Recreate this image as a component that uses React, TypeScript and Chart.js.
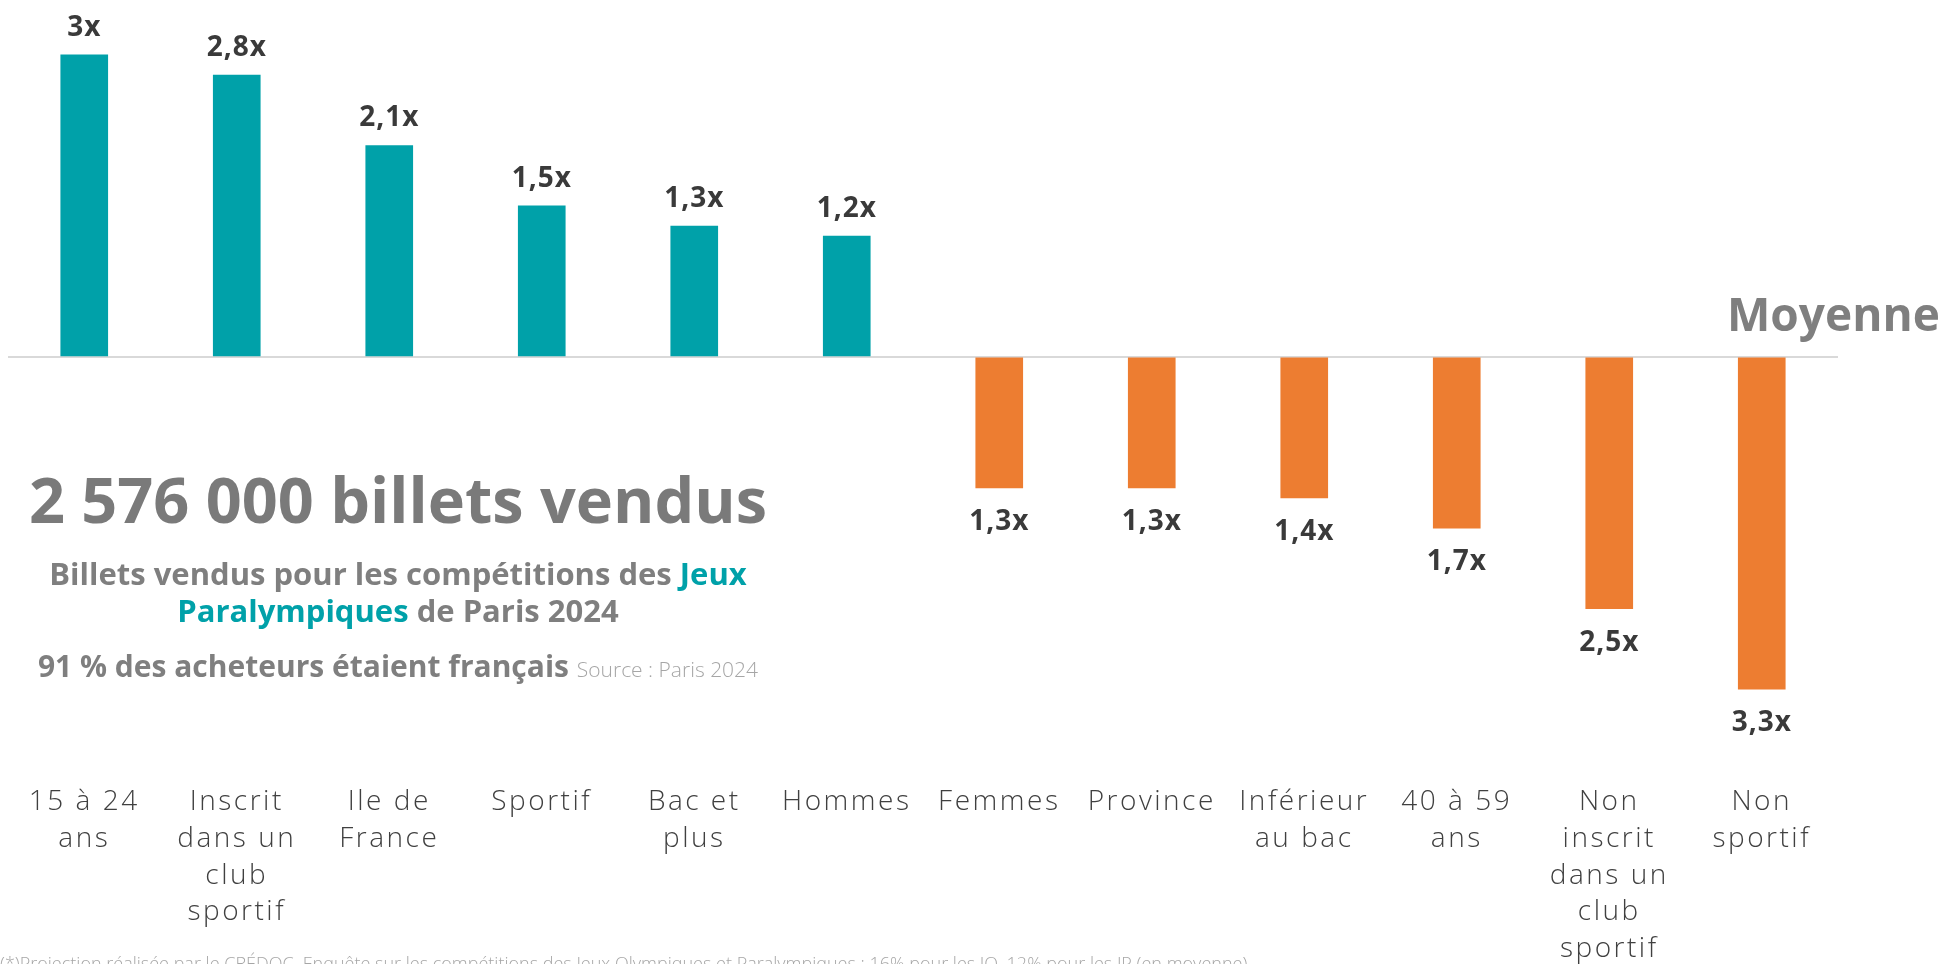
import React, { useEffect, useRef } from "react";
import { Chart, registerables } from "chart.js";

Chart.register(...registerables);

const categories: string[][] = [
  ["15 à 24", "ans"],
  ["Inscrit", "dans un", "club", "sportif"],
  ["Ile de", "France"],
  ["Sportif"],
  ["Bac et", "plus"],
  ["Hommes"],
  ["Femmes"],
  ["Province"],
  ["Inférieur", "au bac"],
  ["40 à 59", "ans"],
  ["Non", "inscrit", "dans un", "club", "sportif"],
  ["Non", "sportif"],
];

const values: number[] = [3, 2.8, 2.1, 1.5, 1.3, 1.2, -1.3, -1.3, -1.4, -1.7, -2.5, -3.3];

const valueLabels: string[] = ["3x", "2,8x", "2,1x", "1,5x", "1,3x", "1,2x", "1,3x", "1,3x", "1,4x", "1,7x", "2,5x", "3,3x"];

const TEAL = "#00A1A9";
const ORANGE = "#ED7D31";
const FONT = "'Open Sans', sans-serif";

export default function App() {
  const ref = useRef<HTMLCanvasElement>(null);

  useEffect(() => {
    const spacingPlugin = {
      id: "spacing",
      beforeDraw(chart: any) {
        (chart.ctx as any).letterSpacing = "2.5px";
      },
    };
    const labelPlugin = {
      id: "valueLabels",
      afterDatasetsDraw(chart: any) {
        const ctx = chart.ctx;
        const meta = chart.getDatasetMeta(0);
        ctx.save();
        (ctx as any).letterSpacing = "1px";
        ctx.font = `700 28px ${FONT}`;
        ctx.fillStyle = "#3a3a3a";
        ctx.textAlign = "center";
        ctx.textBaseline = "middle";
        meta.data.forEach((bar: any, i: number) => {
          const v = values[i];
          const y = v >= 0 ? bar.y - 27 : bar.y + 34;
          ctx.fillText(valueLabels[i], bar.x, y);
        });
        ctx.restore();
      },
    };

    const chart = new Chart(ref.current as HTMLCanvasElement, {
      type: "bar",
      data: {
        labels: categories,
        datasets: [
          {
            data: values,
            backgroundColor: values.map((v) => (v >= 0 ? TEAL : ORANGE)),
            barThickness: 47,
          },
        ],
      },
      options: {
        animation: false,
        responsive: false,
        maintainAspectRatio: false,
        layout: { padding: { left: 8, right: 101, top: 4.5, bottom: 10.1 } },
        plugins: { legend: { display: false }, tooltip: { enabled: false } },
        scales: {
          x: {
            grid: { display: false, drawTicks: false },
            border: { display: false },
            afterFit: (scale: any) => {
              scale.height = 190;
            },
            ticks: {
              autoSkip: false,
              maxRotation: 0,
              minRotation: 0,
              padding: 4,
              color: "#404040",
              font: { family: FONT, size: 28, weight: "300", lineHeight: 1.31 },
            },
          },
          y: {
            min: -4.2,
            max: 3.5,
            ticks: { display: false, stepSize: 0.5 },
            grid: {
              drawTicks: false,
              lineWidth: 2,
              color: (c: any) => (c.tick && c.tick.value === 0 ? "#d9d9d9" : "rgba(0,0,0,0)"),
            },
            border: { display: false },
          },
        },
      },
      plugins: [spacingPlugin, labelPlugin],
    } as any);
    return () => chart.destroy();
  }, []);

  return (
    <div
      style={{
        position: "fixed",
        left: 0,
        top: 0,
        width: 1939,
        height: 964,
        overflow: "hidden",
        background: "#fff",
        fontFamily: FONT,
      }}
    >
      <canvas ref={ref} width={1939} height={980} style={{ position: "absolute", left: 0, top: 0, width: 1939, height: 980 }} />
      <div
        style={{
          position: "absolute",
          left: 1727,
          top: 290,
          fontSize: 46,
          lineHeight: "46px",
          fontWeight: 700,
          color: "#7f7f7f",
          whiteSpace: "nowrap",
        }}
      >
        Moyenne
      </div>
      <div
        style={{
          position: "absolute",
          left: 0,
          width: 796,
          top: 467,
          fontSize: 63,
          lineHeight: "63px",
          fontWeight: 700,
          color: "#7a7a7a",
          whiteSpace: "nowrap",
          textAlign: "center",
        }}
      >
        2 576 000 billets vendus
      </div>
      <div
        style={{
          position: "absolute",
          left: 0,
          width: 796,
          top: 555,
          fontSize: 31,
          lineHeight: "36.5px",
          fontWeight: 700,
          color: "#7f7f7f",
          whiteSpace: "nowrap",
          textAlign: "center",
        }}
      >
        Billets vendus pour les compétitions des <span style={{ color: TEAL }}>Jeux</span>
        <br />
        <span style={{ color: TEAL }}>Paralympiques</span> de Paris 2024
      </div>
      <div
        style={{
          position: "absolute",
          left: 0,
          width: 796,
          top: 648,
          fontSize: 30,
          lineHeight: "36.5px",
          fontWeight: 700,
          color: "#7f7f7f",
          whiteSpace: "nowrap",
          textAlign: "center",
        }}
      >
        91 % des acheteurs étaient français{" "}
        <span style={{ fontSize: 21, fontWeight: 300, color: "#a6a6a6" }}>Source : Paris 2024</span>
      </div>
      <div
        style={{
          position: "absolute",
          left: 0,
          top: 954,
          fontSize: 18,
          lineHeight: "18px",
          fontWeight: 300,
          color: "#a6a6a6",
          whiteSpace: "nowrap",
        }}
      >
        (*)Projection réalisée par le CRÉDOC. Enquête sur les compétitions des Jeux Olympiques et Paralympiques : 16% pour les JO, 12% pour les JP (en moyenne)
      </div>
    </div>
  );
}
